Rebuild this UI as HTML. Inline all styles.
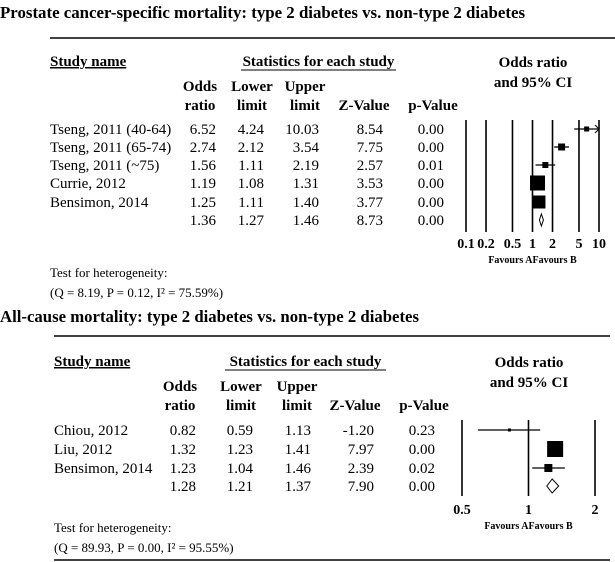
<!DOCTYPE html>
<html><head><meta charset="utf-8"><style>
html,body{margin:0;padding:0;background:#fff}
svg{display:block;font-family:"Liberation Serif",serif}
.b{font-weight:bold}
</style></head><body>
<svg id="s" width="615" height="562" viewBox="0 0 615 562">
<text x="0" y="18" class="b" font-size="17" textLength="525" lengthAdjust="spacingAndGlyphs">Prostate cancer-specific mortality: type 2 diabetes vs. non-type 2 diabetes</text>
<line x1="50" y1="38" x2="615" y2="38" stroke="#000" stroke-width="1.5"/>
<text x="0" y="322" class="b" font-size="17" textLength="419" lengthAdjust="spacingAndGlyphs">All-cause mortality: type 2 diabetes vs. non-type 2 diabetes</text>
<line x1="54" y1="336" x2="610" y2="336" stroke="#000" stroke-width="1.5"/>
<line x1="54" y1="560" x2="610" y2="560" stroke="#000" stroke-width="1.5"/>
</svg>
<script>
// top chart data
var topStudies=["Tseng, 2011 (40-64)","Tseng, 2011 (65-74)","Tseng, 2011 (~75)","Currie, 2012","Bensimon, 2014",""];
var topOR=[6.52,2.74,1.56,1.19,1.25,1.36];
var topLow=[4.24,2.12,1.11,1.08,1.11,1.27];
var topUp=[10.03,3.54,2.19,1.31,1.40,1.46];
var topZ=["8.54","7.75","2.57","3.53","3.77","8.73"];
var topP=["0.00","0.00","0.01","0.00","0.00","0.00"];
var topWeight=[5,7,6,15,13,0];
var topTicks=[0.1,0.2,0.5,1,2,5,10];
var topTickLabels=["0.1","0.2","0.5","1","2","5","10"];
// bottom chart data
var botStudies=["Chiou, 2012","Liu, 2012","Bensimon, 2014",""];
var botOR=[0.82,1.32,1.23,1.28];
var botLow=[0.59,1.23,1.04,1.21];
var botUp=[1.13,1.41,1.46,1.37];
var botZ=["-1.20","7.97","2.39","7.90"];
var botP=["0.23","0.00","0.02","0.00"];
var botWeight=[3,16,8,0];
var botTicks=[0.5,1,2];
var botTickLabels=["0.5","1","2"];

var svg=document.getElementById('s');var NS="http://www.w3.org/2000/svg";
function mk(tag,at,txt){var e=document.createElementNS(NS,tag);for(var k in at)e.setAttribute(k,at[k]);if(txt!==undefined)e.textContent=txt;svg.appendChild(e);return e;}
function fmt(v){return v.toFixed(2);}

function drawPanel(o){
  var h;
  h=mk('text',{x:o.nameX,y:o.y0+5,'font-size':15,'font-weight':'bold','text-decoration':'underline'},'Study name');
  
  h=mk('text',{x:(o.statL+o.statR)/2,y:o.y0+5,'font-size':15,'font-weight':'bold','text-anchor':'middle'},'Statistics for each study');
  
  var ln=mk('line',{x1:o.statL,y1:o.y0+9,x2:o.statR,y2:o.y0+9,stroke:'#000'});
  
  h=mk('text',{x:o.plotHX,y:o.y0+6,'font-size':15,'font-weight':'bold','text-anchor':'middle'},'Odds ratio');
  
  h=mk('text',{x:o.plotHX,y:o.y0+26,'font-size':15,'font-weight':'bold','text-anchor':'middle'},'and 95% CI');
  
  var cols=[["Odds","ratio",o.cx[0]-16],["Lower","limit",o.cx[1]-12],["Upper","limit",o.cx[2]-14],["","Z-Value",o.cx[3]-19],["","p-Value",o.cx[4]-11]];
  cols.forEach(function(c,i){
    if(c[0]){h=mk('text',{x:c[2],y:o.y0+30,'font-size':15,'font-weight':'bold','text-anchor':'middle'},c[0]);
    }
    h=mk('text',{x:c[2],y:o.y0+49,'font-size':15,'font-weight':'bold','text-anchor':'middle'},c[1]);
    
  });
  o.ticks.forEach(function(t,i){
    var x=o.sx(t);
    var l=mk('line',{x1:x,y1:o.lineTop,x2:x,y2:o.lineBot,stroke:'#000','stroke-width':1.6});
    
    var tx=mk('text',{x:x,y:o.tickY,'font-size':14,'font-weight':'bold','text-anchor':'middle'},o.tickLabels[i]);
    
  });
  var f=mk('text',{x:o.sx(1),y:o.tickY+15,'font-size':10,'font-weight':'bold','text-anchor':'end'},'Favours A');
  
  f=mk('text',{x:o.sx(1),y:o.tickY+15,'font-size':10,'font-weight':'bold'},'Favours B');
  
  o.studies.forEach(function(s,i){
    var y=o.rowY[i]+5;
    if(s){var t=mk('text',{x:o.nameX,y:y,'font-size':15},s);}
    var vals=[fmt(o.or[i]),fmt(o.lo[i]),fmt(o.up[i]),o.z[i],o.p[i]];
    vals.forEach(function(v,j){var t=mk('text',{x:o.cx[j],y:y,'font-size':15,'text-anchor':'end'},v);
      });
    var yc=o.rowY[i];
    if(o.w[i]>0){
      var x1=o.sx(o.lo[i]),x2=Math.min(o.sx(o.up[i]),o.maxX);
      var l=mk('line',{x1:x1,y1:yc,x2:x2,y2:yc,stroke:'#000','stroke-width':1.3});
      
      if(o.sx(o.up[i])>o.maxX){var a=mk('polyline',{points:(x2-4)+','+(yc-4)+' '+x2+','+yc+' '+(x2-4)+','+(yc+4),fill:'none',stroke:'#000'});
        }
      var w=o.w[i],cx=o.sx(o.or[i]);
      var r=mk('rect',{x:cx-w/2,y:yc-w/2,width:w,height:w,fill:'#000'});
      
    } else {
      var x1=o.sx(o.lo[i]),x2=o.sx(o.up[i]),xm=o.sx(o.or[i]),hh=o.dh;
      var d=mk('polygon',{points:x1+','+yc+' '+xm+','+(yc-hh)+' '+x2+','+yc+' '+xm+','+(yc+hh),fill:'#fff',stroke:'#000','stroke-width':1});
      
    }
  });
  var t=mk('text',{x:o.nameX,y:o.hetY,'font-size':13},'Test for heterogeneity:');
  
  t=mk('text',{x:o.nameX,y:o.hetY+20,'font-size':13},o.het);
  
}

drawPanel({nameX:50,y0:61,statL:241,statR:396,plotHX:533,cx:[216,264,319,383,444],
  ticks:topTicks,tickLabels:topTickLabels,sx:function(v){return 532.5+66.5*Math.log10(v);},maxX:599,
  lineTop:120,lineBot:232,tickY:248,studies:topStudies,or:topOR,lo:topLow,up:topUp,z:topZ,p:topP,w:topWeight,
  rowY:[129,147,165,183,202,220],dh:6,hetY:277,het:"(Q = 8.19, P = 0.12, I\u00B2 = 75.59%)"});
drawPanel({nameX:54,y0:361,statL:225,statR:386,plotHX:529,cx:[196,253,311,374,435],
  ticks:botTicks,tickLabels:botTickLabels,sx:function(v){return 528.5+66.5*Math.log2(v);},maxX:600,
  lineTop:420,lineBot:496,tickY:514,studies:botStudies,or:botOR,lo:botLow,up:botUp,z:botZ,p:botP,w:botWeight,
  rowY:[430,449,468,486],dh:7,hetY:532,het:"(Q = 89.93, P = 0.00, I\u00B2 = 95.55%)"});
</script>
</body></html>
